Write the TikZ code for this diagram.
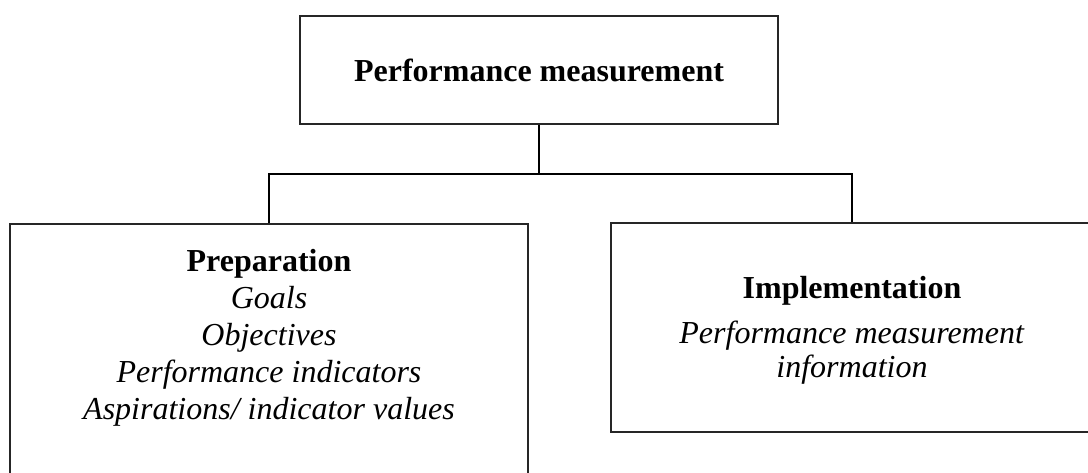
\documentclass[tikz,border=0pt]{standalone}
\usepackage{fontspec}
\setmainfont{Liberation Serif}
\begin{document}
\begin{tikzpicture}[x=1pt,y=-1pt,
  box/.style={draw=black!85, line width=1.4pt, rectangle, inner sep=0pt},
  link/.style={draw=black, line width=2pt},
  txt/.style={inner sep=0pt, align=center}]
\useasboundingbox (0,0) rectangle (1088,473);
\clip (0,0) rectangle (1088,473);
% boxes
\node[box, minimum width=478pt, minimum height=108pt,
      font=\fontsize{32}{37}\selectfont\bfseries] (top) at (539,70) {Performance measurement};
\node[box, minimum width=518pt, minimum height=290pt] (left) at (269,369) {};
\node[box, minimum width=482pt, minimum height=209pt] (right) at (852,327.5) {};
% texts
\node[txt, anchor=north, font=\fontsize{32}{37}\selectfont] (prep) at (269,249)
  {\textbf{Preparation}\\\textit{Goals}\\\textit{Objectives}\\\textit{Performance indicators}\\\textit{Aspirations/ indicator values}};
\node[txt, anchor=north, font=\fontsize{32}{34}\selectfont] (impl) at (852,276)
  {\textbf{Implementation}\\[11pt]\textit{Performance measurement}\\\textit{information}};
% connectors
\coordinate (bus) at (0,174);
\draw[link] (top.south) -- (top.south |- bus);
\draw[link] (left.north) -- (left.north |- bus) -- (right.north |- bus) -- (right.north);
\end{tikzpicture}
\end{document}
